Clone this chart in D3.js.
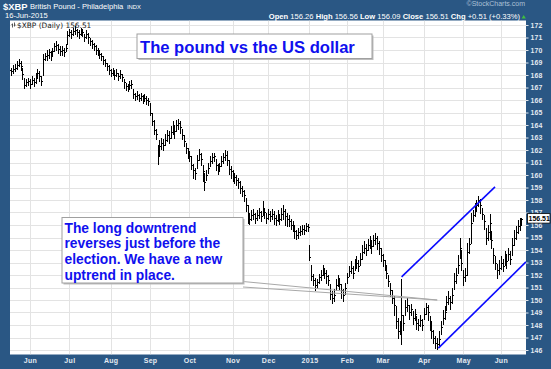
<!DOCTYPE html>
<html>
<head>
<meta charset="utf-8">
<script src="https://cdn.jsdelivr.net/npm/d3@7"></script>
<style>
  body { margin: 0; background: #2a5784; }
  svg { display: block; font-family: Arial, "Liberation Sans", sans-serif; }
</style>
</head>
<body>
<script>
// $XBP daily bars, one value per trading day (first bar = 16-May-2014, last = 16-Jun-2015)
var highs = [
  168.7,168.6,168.8,168.9,169.1,169.3,169.1,168.6,167.8,167.7,
  167.8,167.7,167.9,167.8,168.2,168.5,168.3,167.9,169.7,169.8,
  170.0,170.1,169.9,170.2,170.6,170.7,170.5,170.3,170.3,170.2,
  170.5,171.5,171.7,171.6,171.8,171.9,171.7,171.6,171.8,171.7,
  171.3,171.6,171.4,171.0,170.8,170.6,170.4,170.2,170.0,169.8,
  169.5,169.3,169.0,168.8,168.5,168.6,168.4,168.5,168.2,168.4,
  168.1,167.7,167.4,167.3,167.5,167.6,166.9,166.6,166.7,166.5,
  166.6,166.4,166.5,166.3,166.2,165.8,165.0,164.4,163.7,162.4,
  162.8,163.0,162.9,163.3,163.6,163.5,163.9,164.3,164.0,164.4,
  164.5,164.3,163.7,163.2,162.6,162.2,161.9,161.5,160.9,160.6,
  161.6,162.1,161.8,160.8,160.2,160.4,161.0,161.5,161.8,161.8,
  161.3,160.9,161.0,161.5,161.8,162.0,161.9,161.2,160.7,160.4,
  160.2,160.0,159.8,159.5,159.1,158.8,158.2,157.6,157.0,157.2,
  157.3,157.0,157.2,157.4,157.1,157.9,157.4,157.0,157.3,157.1,
  157.3,157.1,156.8,157.2,156.9,157.4,157.6,157.3,157.0,156.8,
  156.5,156.3,156.0,155.6,155.8,155.9,156.0,156.0,156.2,156.1,
  154.4,152.8,152.1,151.8,151.7,152.1,152.4,152.8,152.6,152.4,
  152.0,151.3,150.7,150.9,151.7,152.0,151.8,151.3,150.9,151.4,
  152.2,152.7,153.1,152.7,153.3,153.5,153.2,153.8,154.4,154.7,
  154.5,154.9,155.1,154.8,155.2,155.4,155.1,154.7,154.2,153.7,
  153.2,152.7,152.0,151.4,150.8,150.3,149.5,148.6,148.3,151.7,
  148.8,150.0,150.2,149.6,149.7,149.1,149.3,148.7,148.5,148.8,
  148.5,149.4,149.8,149.6,148.7,148.3,147.6,147.1,147.0,147.5,
  148.3,149.2,149.5,150.3,150.7,150.3,151.0,152.2,152.6,153.6,
  155.0,154.0,152.4,152.6,154.6,155.0,157.0,157.2,157.8,158.0,
  158.3,158.1,157.4,156.8,155.8,156.0,156.9,155.5,154.2,153.5,
  152.9,153.2,153.5,153.3,153.9,153.7,154.2,153.9,155.0,155.6,
  155.9,156.4,156.6,156.56
];
var lows = [
  168.1,168.0,168.2,168.3,168.5,168.7,168.4,167.7,167.0,167.1,
  167.2,167.0,167.3,167.1,167.4,167.8,167.5,167.2,168.0,169.2,
  169.2,169.4,169.2,169.5,169.9,170.0,169.8,169.6,169.6,169.5,
  169.9,170.5,171.1,171.0,171.2,171.3,171.1,171.0,171.2,171.1,
  170.7,171.0,170.6,170.4,170.2,170.0,169.7,169.6,169.4,169.2,
  168.9,168.7,168.4,168.1,167.9,168.0,167.7,167.9,167.6,167.8,
  167.5,167.0,166.8,166.7,166.9,167.0,166.2,166.0,166.1,165.9,
  166.0,165.8,165.9,165.7,165.6,164.8,164.0,163.3,162.9,160.9,
  161.6,162.1,162.0,162.4,162.7,162.6,163.0,163.3,163.0,163.5,
  163.7,163.4,162.9,162.3,161.8,161.4,161.1,160.5,159.8,159.7,
  160.6,161.2,160.8,159.5,158.8,159.6,160.2,160.7,161.0,161.1,
  160.4,160.1,160.3,160.7,161.0,161.2,160.8,160.1,159.8,159.5,
  159.4,159.2,159.0,158.6,158.3,157.9,157.1,156.2,156.1,156.4,
  156.5,156.2,156.4,156.6,156.3,156.8,156.6,156.2,156.5,156.3,
  156.5,156.1,156.0,156.3,156.1,156.4,156.5,156.0,155.9,155.9,
  155.7,155.5,155.0,154.9,155.0,155.2,155.3,155.3,155.5,155.5,
  153.2,151.6,151.2,150.8,151.0,151.4,151.6,152.0,151.8,151.4,
  151.2,150.1,149.8,149.9,150.8,151.1,150.9,150.2,149.9,150.5,
  151.4,151.9,152.2,151.8,152.4,152.6,152.3,152.8,153.3,153.8,
  153.6,154.0,154.2,153.8,154.3,154.5,154.1,153.7,153.1,152.7,
  152.4,151.8,151.1,150.3,149.8,148.8,147.8,147.0,147.3,146.5,
  147.6,148.8,149.1,148.5,148.8,148.1,148.4,147.7,147.6,147.9,
  147.6,148.5,148.9,148.4,147.6,147.0,146.6,146.2,146.1,146.4,
  147.3,148.1,148.5,149.2,149.7,149.3,149.8,150.9,151.4,152.2,
  153.4,152.4,151.2,151.5,152.0,153.8,154.6,156.3,156.7,157.1,
  157.5,157.0,156.5,155.7,154.5,154.8,154.9,154.2,153.0,152.5,
  151.8,152.1,152.5,152.3,152.8,152.6,153.2,152.9,153.6,154.4,
  154.9,155.4,155.6,156.09
];
var closes = [
  168.4,168.3,168.5,168.6,168.8,169.0,168.7,168.1,167.2,167.4,
  167.5,167.3,167.6,167.4,167.8,168.2,167.9,167.5,169.3,169.5,
  169.6,169.8,169.5,169.9,170.3,170.4,170.1,169.9,170.0,169.8,
  170.2,171.2,171.4,171.3,171.5,171.6,171.4,171.3,171.5,171.4,
  171.0,171.3,171.0,170.7,170.5,170.3,170.0,169.9,169.7,169.5,
  169.2,169.0,168.7,168.4,168.2,168.3,168.0,168.2,167.9,168.1,
  167.8,167.4,167.1,167.0,167.2,167.3,166.5,166.3,166.4,166.2,
  166.3,166.1,166.2,166.0,165.9,165.0,164.3,163.6,163.3,161.5,
  162.3,162.6,162.4,162.8,163.2,163.0,163.4,163.8,163.5,164.0,
  164.2,163.8,163.2,162.7,162.2,161.8,161.5,160.8,160.4,160.2,
  161.2,161.7,161.3,160.3,159.4,160.0,160.6,161.1,161.4,161.5,
  160.8,160.5,160.7,161.1,161.4,161.6,161.2,160.5,160.3,160.0,
  159.8,159.6,159.4,159.0,158.7,158.4,157.6,156.8,156.5,156.8,
  156.9,156.6,156.8,157.0,156.7,157.3,157.0,156.6,156.9,156.7,
  156.9,156.6,156.4,156.8,156.5,156.9,157.1,156.7,156.5,156.3,
  156.0,155.8,155.5,155.2,155.4,155.5,155.7,155.6,155.9,155.8,
  153.4,151.9,151.6,151.2,151.4,151.8,152.0,152.4,152.2,151.9,
  151.6,150.5,150.2,150.4,151.2,151.5,151.3,150.8,150.4,151.0,
  151.8,152.3,152.6,152.2,152.8,153.0,152.7,153.3,153.8,154.2,
  154.0,154.4,154.7,154.3,154.8,155.0,154.6,154.2,153.6,153.2,
  152.8,152.2,151.5,150.8,150.2,149.6,148.3,147.5,147.8,148.8,
  148.2,149.4,149.6,149.0,149.3,148.6,148.9,148.2,148.0,148.4,
  148.0,148.9,149.4,149.0,148.0,147.5,147.0,146.6,146.5,146.9,
  147.8,148.6,149.0,149.8,150.2,149.8,150.4,151.5,152.0,152.8,
  154.2,153.0,151.8,152.0,153.8,154.5,156.2,156.8,157.3,157.6,
  158.0,157.6,156.9,156.3,155.0,155.4,156.2,154.8,153.6,153.0,
  152.4,152.6,153.0,152.7,153.4,153.1,153.7,153.3,154.4,155.0,
  155.4,155.9,156.0,156.51
];

// market holidays (no bar)
var holidays = ["2014-05-26","2014-07-04","2014-09-01","2014-11-27","2014-12-25",
  "2015-01-01","2015-01-19","2015-02-16","2015-04-03","2015-05-25"];

var yTicks = [146,147,148,149,150,151,152,153,154,155,156,157,158,159,
  160,161,162,163,164,165,166,167,168,169,170,171,172];

var lastClose = 156.51;

// trendlines and callout tip as [bar index, price]
var trendUpper = [[209.1, 151.85], [258.9, 159.05]];
var trendLower = [[228.7, 146.15], [275.4, 153.05]];
var calloutTip = [228.1, 150.0];

var titleText = "The pound vs the US dollar";
var noteLines = ["The long downtrend", "reverses just before the",
  "election. We have a new", "uptrend in place."];

var W = 551, H = 369;
var plot = { left: 10, top: 20.5, right: 526, bottom: 354.5 };

var svg = d3.select("body").append("svg")
  .attr("width", W)
  .attr("height", H);

svg.append("rect").attr("width", W).attr("height", H).attr("fill", "#2a5784");

//Trading days
var fmt = d3.timeFormat("%Y-%m-%d");
var days = d3.timeDay.range(new Date(2014, 3, 1), new Date(2015, 5, 17))
  .filter(function(d) { return d.getDay() != 0 && d.getDay() != 6 && holidays.indexOf(fmt(d)) < 0; })
  .slice(-closes.length);

var x = d3.scaleLinear()
  .domain([-0.5, closes.length - 0.5])
  .range([8.4, 522.4]);

var y = d3.scaleLinear()
  .domain([146, 172])
  .range([350, 25]);

//month starts
var monthStarts = [];
days.forEach(function(d, i) {
  if (i > 0 && d.getMonth() != days[i - 1].getMonth()) monthStarts.push(i);
});

//Plot background
svg.append("rect")
  .attr("x", plot.left).attr("y", plot.top)
  .attr("width", plot.right - plot.left).attr("height", plot.bottom - plot.top)
  .attr("fill", "#fff");

svg.append("clipPath").attr("id", "clip")
  .append("rect")
  .attr("x", plot.left).attr("y", plot.top)
  .attr("width", plot.right - plot.left).attr("height", plot.bottom - plot.top);

var g = svg.append("g").attr("clip-path", "url(#clip)");

//Grid
g.selectAll(".hgrid")
  .data(yTicks)
  .enter().append("line")
  .attr("x1", plot.left).attr("x2", plot.right)
  .attr("y1", function(d) { return Math.round(y(d)) + 0.5; })
  .attr("y2", function(d) { return Math.round(y(d)) + 0.5; })
  .attr("stroke", "#e3e3e3");

g.selectAll(".vgrid")
  .data(monthStarts)
  .enter().append("line")
  .attr("x1", function(d) { return Math.round(x(d)) + 0.5; })
  .attr("x2", function(d) { return Math.round(x(d)) + 0.5; })
  .attr("y1", plot.top).attr("y2", plot.bottom)
  .attr("stroke", "#e3e3e3");

//Price bars (high-low with close tick)
var bars = g.append("g")
  .attr("stroke", "#000")
  .attr("shape-rendering", "crispEdges");

bars.selectAll(".hl")
  .data(closes)
  .enter().append("line")
  .attr("x1", function(d, i) { return Math.round(x(i)) + 0.5; })
  .attr("x2", function(d, i) { return Math.round(x(i)) + 0.5; })
  .attr("y1", function(d, i) { return y(highs[i]); })
  .attr("y2", function(d, i) { return y(lows[i]) + 1; });

bars.selectAll(".cl")
  .data(closes)
  .enter().append("line")
  .attr("x1", function(d, i) { return Math.round(x(i)) + 1; })
  .attr("x2", function(d, i) { return Math.round(x(i)) + 2; })
  .attr("y1", function(d) { return Math.round(y(d)) + 0.5; })
  .attr("y2", function(d) { return Math.round(y(d)) + 0.5; });

//Trendlines
[trendUpper, trendLower].forEach(function(t) {
  g.append("line")
    .attr("x1", x(t[0][0])).attr("y1", y(t[0][1]))
    .attr("x2", x(t[1][0])).attr("y2", y(t[1][1]))
    .attr("stroke", "#0a0aff")
    .attr("stroke-width", 1.6);
});

//Callout pointer
var tipX = x(calloutTip[0]), tipY = y(calloutTip[1]);
[281.5, 287].forEach(function(sy) {
  g.append("line")
    .attr("x1", 243).attr("y1", sy)
    .attr("x2", tipX).attr("y2", tipY)
    .attr("stroke", "#a8a8a8")
    .attr("stroke-width", 1);
});

//Legend
var leg = svg.append("g").attr("stroke", "#333").attr("stroke-width", 0.8);
leg.append("path").attr("d", "M12.5,23.5v4M11.5,24.5h1M14.5,22.5v4M14.5,25h1").attr("fill", "none");
svg.append("text")
  .attr("x", 17).attr("y", 28)
  .style("font-family", "'DejaVu Sans', Verdana, sans-serif")
  .style("font-size", "7.4px")
  .style("fill", "#222")
  .text("$XBP (Daily) 156.51");

//Title box
svg.append("rect").attr("x", 138.5).attr("y", 35.5).attr("width", 235).attr("height", 24.5).attr("fill", "#bdbdbd");
svg.append("rect").attr("x", 137).attr("y", 34).attr("width", 235).attr("height", 24.5)
  .attr("fill", "#fff").attr("stroke", "#a0a0a0").attr("stroke-width", 1);
svg.append("text")
  .attr("x", 140).attr("y", 53)
  .style("font-size", "16.6px").style("font-weight", "bold").style("fill", "#1010ee")
  .text(titleText);

//Note box
svg.append("rect").attr("x", 63.5).attr("y", 219).attr("width", 181).attr("height", 65.5).attr("fill", "#bdbdbd");
svg.append("rect").attr("x", 62).attr("y", 217.5).attr("width", 181).attr("height", 65.5)
  .attr("fill", "#fff").attr("stroke", "#a0a0a0").attr("stroke-width", 1);
svg.append("g").selectAll("text")
  .data(noteLines)
  .enter().append("text")
  .attr("x", 64.5)
  .attr("y", function(d, i) { return 232.6 + i * 15.8; })
  .style("font-size", "13.8px").style("font-weight", "bold").style("fill", "#1010ee")
  .text(function(d) { return d; });

//Right axis
var yAxis = d3.axisRight(y).tickValues(yTicks).tickSize(2.5).tickPadding(2);
var ya = svg.append("g")
  .attr("transform", "translate(" + plot.right + ",0)")
  .call(yAxis);
ya.select(".domain").remove();
ya.selectAll("line").attr("stroke", "#dfe6ee");
ya.selectAll("text")
  .style("font-family", "Arial, sans-serif")
  .style("font-size", "6.9px")
  .style("font-weight", "bold")
  .style("letter-spacing", "0.2px")
  .style("fill", "#e4eaf1");

//Last price tag
var ly = y(lastClose);
svg.append("rect")
  .attr("x", 527.5).attr("y", ly - 5).attr("width", 22.5).attr("height", 9.5)
  .attr("fill", "#fff").attr("stroke", "#000").attr("stroke-width", 0.8);
svg.append("text")
  .attr("x", 528.5).attr("y", ly + 2.5)
  .style("font-size", "7px").style("font-weight", "bold").style("fill", "#000")
  .text(lastClose.toFixed(2));

//Bottom axis
var xAxis = d3.axisBottom(x)
  .tickValues(monthStarts)
  .tickSize(0)
  .tickPadding(4)
  .tickFormat(function(i) { var d = days[i]; return d.getMonth() == 0 ? d3.timeFormat("%Y")(d) : d3.timeFormat("%b")(d); });
var xa = svg.append("g")
  .attr("transform", "translate(0," + plot.bottom + ")")
  .call(xAxis);
xa.select(".domain").remove();
xa.selectAll("text")
  .style("font-family", "Arial, sans-serif")
  .style("font-size", "7px")
  .style("font-weight", "bold")
  .style("letter-spacing", "0.3px")
  .style("fill", "#e4eaf1");

//Header
svg.append("text").attr("x", 3).attr("y", 9.5)
  .style("font-size", "9.4px").style("font-weight", "bold").style("fill", "#fff")
  .text("$XBP");
svg.append("text").attr("x", 30).attr("y", 9)
  .style("font-size", "7.6px").style("fill", "#fff")
  .text("British Pound - Philadelphia");
svg.append("text").attr("x", 127).attr("y", 9)
  .style("font-size", "5.8px").style("fill", "#fff")
  .text("INDX");
svg.append("text").attr("x", 5).attr("y", 18)
  .style("font-size", "7.6px").style("fill", "#fff")
  .text("16-Jun-2015");
svg.append("text").attr("x", 525).attr("y", 6)
  .attr("text-anchor", "end")
  .style("font-size", "7px").style("fill", "#aac0d6")
  .text("\u00a9StockCharts.com");

var quote = [["Open", "156.26"], ["High", "156.56"], ["Low", "156.09"], ["Close", "156.51"], ["Chg", "+0.51 (+0.33%)"]];
var qt = svg.append("text").attr("x", 520).attr("y", 18.5)
  .attr("text-anchor", "end")
  .style("font-size", "7.6px").style("fill", "#fff");
quote.forEach(function(q, i) {
  qt.append("tspan").style("font-weight", "bold").text((i ? " " : "") + q[0] + " ");
  qt.append("tspan").text(q[1]);
});
svg.append("path")
  .attr("d", "M521.5,18.5l2.2,-3.5l2.2,3.5z")
  .attr("fill", "#3fbf3f");
</script>
</body>
</html>
